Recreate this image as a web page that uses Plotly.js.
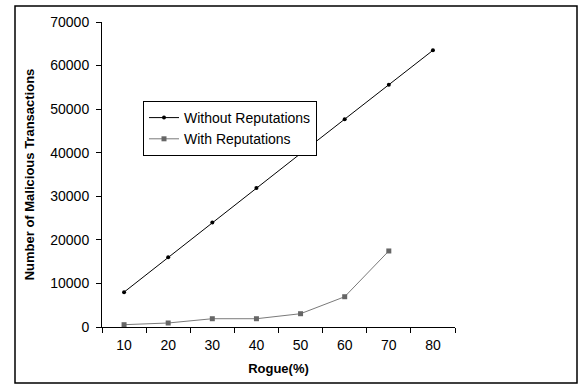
<!DOCTYPE html>
<html><head><meta charset="utf-8">
<script src="https://cdn.plot.ly/plotly-3.0.1.min.js"></script>
<style>html,body{margin:0;padding:0;background:#fff;}#chart{width:584px;height:385px;}</style>
</head><body><div id="chart"></div>
<script>
const rogue = ['10','20','30','40','50','60','70','80'];
const withoutRep = [8000, 16000, 24000, 31900, 39800, 47700, 55600, 63500];
const rogueWith = ['10','20','30','40','50','60','70'];
const withRep = [530, 920, 1900, 1900, 3050, 6950, 17450];
const yTicks = [0,10000,20000,30000,40000,50000,60000,70000];

const L=102, R=455, T=22, B=327;
const W=R-L, H=B-T;
const traces = [
  {x: rogue, y: withoutRep, name: 'Without Reputations', type: 'scatter', mode: 'lines+markers',
   line: {color: '#000', width: 1}, marker: {symbol: 'circle', size: 4, color: '#000'}},
  {x: rogueWith, y: withRep, name: 'With Reputations', type: 'scatter', mode: 'lines+markers',
   line: {color: '#7a7a7a', width: 1}, marker: {symbol: 'square', size: 5, color: '#666'}}
];
const layout = {
  width: 584, height: 385,
  margin: {l: L, r: 584-R, t: T, b: 385-B, pad: 0},
  paper_bgcolor: '#fff', plot_bgcolor: '#fff',
  font: {family: 'Liberation Sans, Arial, sans-serif', color: '#000', size: 14},
  showlegend: true,
  legend: {x: (143-L)/W, y: (B-101)/H, xanchor: 'left', yanchor: 'top',
    bordercolor: '#000', borderwidth: 1, bgcolor: '#fff',
    font: {size: 14}, tracegroupgap: 0, itemwidth: 30},
  xaxis: {type: 'category', categoryarray: rogue, range: [-0.5, 7.5],
    showline: true, linecolor: '#000', linewidth: 1, showgrid: false, zeroline: false,
    ticks: 'outside', tickson: 'boundaries', ticklen: 5, tickcolor: '#000',
    tickfont: {size: 14}, ticklabelstandoff: 5,
    title: {text: '<b>Rogue(%)</b>', font: {size: 13}, standoff: 12}},
  yaxis: {range: [0, 70000], tickvals: yTicks, ticktext: yTicks.map(String),
    showline: true, linecolor: '#000', linewidth: 1, showgrid: false, zeroline: false,
    ticks: 'outside', ticklen: 5, tickcolor: '#000',
    tickfont: {size: 14}, ticklabelstandoff: 4,
    title: {text: '<b>Number of Malicious Transactions</b>', font: {size: 13}, standoff: 12}},
  shapes: [{type: 'rect', xref: 'paper', yref: 'paper',
    x0: (15-L)/W, x1: (577-L)/W, y0: (B-383)/H, y1: (B-6)/H,
    line: {color: '#000', width: 1.5}, fillcolor: 'rgba(0,0,0,0)'}]
};
Plotly.newPlot('chart', traces, layout, {displayModeBar: false, staticPlot: true});
</script></body></html>
